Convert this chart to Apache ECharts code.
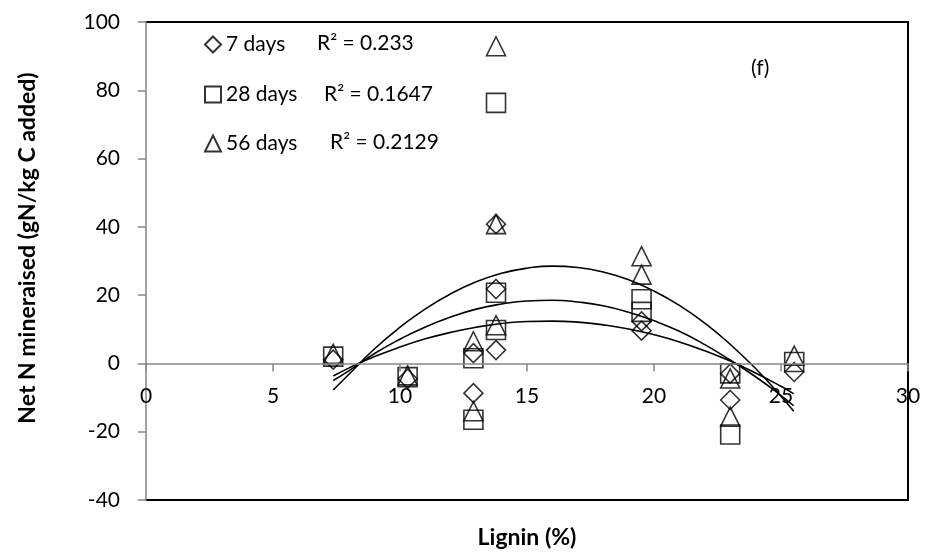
<!DOCTYPE html>
<html lang="en">
<head>
    <meta charset="utf-8">
    <title>Net N mineraised vs Lignin</title>
    <script src="https://cdn.jsdelivr.net/npm/echarts@6/dist/echarts.min.js"></script>
    <style>
        html, body { margin: 0; padding: 0; background: #fff; }
        #main { width: 925px; height: 554px; }
    </style>
</head>
<body>
<div id="main"></div>
<script type="text/javascript">
    // lignin (%) of each residue, same for all three incubation times
    var lignin = [7.37, 10.3, 12.89, 12.89, 13.78, 13.78, 13.78, 19.51, 19.51, 23.0, 23.0, 25.52];
    var day7  = [1.1, -4.5, 3.0, -8.7, 40.8, 21.8, 3.9, 12.3, 9.6, -3.0, -10.7, -2.5];
    var day28 = [2.0, -4.0, 1.5, -16.5, 76.3, 20.7, 9.8, 18.8, 15.1, -2.9, -20.8, 0.4];
    var day56 = [2.8, -3.5, 6.5, -14.0, 92.9, 40.8, 11.2, 31.4, 26.0, -4.4, -15.6, 2.3];

    // polynomial trend lines
    var trendX   = [7.37, 8, 9, 10, 11, 12, 13, 14, 15, 16, 17, 18, 19, 20, 21, 22, 23, 24, 25, 25.5];
    var trend7   = [-3.7, -1.3, 2.0, 4.8, 7.2, 9.1, 10.6, 11.7, 12.3, 12.4, 12.1, 11.3, 10.1, 8.4, 6.3, 3.7, 0.7, -2.8, -6.7, -8.9];
    var trend28  = [-5.0, -2.1, 2.9, 7.1, 10.7, 13.6, 15.9, 17.4, 18.3, 18.5, 18.0, 16.9, 15.0, 12.5, 9.4, 5.5, 1.0, -3.9, -9.4, -12.4];
    var trend56  = [-7.8, -3.1, 4.3, 10.6, 16.0, 20.4, 23.9, 26.4, 27.9, 28.5, 28.1, 26.8, 24.5, 21.2, 17.0, 11.8, 5.6, -1.5, -9.6, -14.0];

    var names = ['7 days', '28 days', '56 days'];
    var rSquared = ['R\u00b2 = 0.233', 'R\u00b2 = 0.1647', 'R\u00b2 = 0.2129'];
    var xTicks = { min: 0, max: 30, interval: 5 };
    var yTicks = { min: -40, max: 100, interval: 20 };

    function pairs(xs, ys) {
        var res = [];
        for (var i = 0; i < ys.length; i++) {
            res.push([xs[i], ys[i]]);
        }
        return res;
    }

    var font = 'Lato';
    var hollow = { color: 'rgba(0,0,0,0)', borderColor: '#000', borderWidth: 1.6 };

    function scatter(name, symbol, values) {
        return {
            name: name,
            type: 'scatter',
            symbol: symbol,
            symbolSize: 19,
            itemStyle: hollow,
            data: pairs(lignin, values)
        };
    }

    function trend(values) {
        return {
            type: 'line',
            data: pairs(trendX, values),
            smooth: true,
            showSymbol: false,
            silent: true,
            lineStyle: { color: '#000', width: 1.6 },
            z: 1
        };
    }

    function legendAt(name, top) {
        return {
            data: [name],
            left: 204,
            top: top,
            padding: 0,
            itemWidth: 16,
            itemHeight: 16,
            selectedMode: false,
            textStyle: { fontFamily: font, fontSize: 21, color: '#000' }
        };
    }

    function textAt(text, x, y) {
        return {
            type: 'text',
            left: x,
            top: y,
            style: { text: text, fontFamily: font, fontSize: 21, fill: '#000' }
        };
    }

    // black frame lines (top, right, bottom) drawn as bare axes
    function frameAxis(position, range) {
        return {
            type: 'value',
            position: position,
            min: range.min,
            max: range.max,
            axisLine: { show: true, onZero: false, lineStyle: { color: '#000', width: 2 } },
            axisTick: { show: false },
            axisLabel: { show: false },
            splitLine: { show: false }
        };
    }

    var myChart = echarts.init(document.getElementById('main'));

    var option = {
        backgroundColor: '#fff',
        animation: false,
        grid: {
            left: 146, right: 17, top: 22, bottom: 54,
            containLabel: false,
            outerBoundsMode: 'none'
        },
        legend: [
            legendAt(names[0], 34),
            legendAt(names[1], 84),
            legendAt(names[2], 133)
        ],
        graphic: [
            textAt(rSquared[0], 317, 33),
            textAt(rSquared[1], 324, 84),
            textAt(rSquared[2], 330, 132),
            textAt('(f)', 751, 58),
            {
                type: 'text',
                x: 28,
                y: 248,
                rotation: Math.PI / 2,
                style: {
                    text: 'Net N mineraised (gN/kg C added)',
                    fontFamily: font, fontSize: 23, fontWeight: 'bold', fill: '#000',
                    align: 'center', verticalAlign: 'middle'
                }
            }
        ],
        xAxis: [
            {
                type: 'value',
                min: xTicks.min,
                max: xTicks.max,
                interval: xTicks.interval,
                name: 'Lignin (%)',
                nameLocation: 'middle',
                nameGap: 26,
                nameTextStyle: { fontFamily: font, fontSize: 23, fontWeight: 'bold', color: '#000' },
                axisLine: { onZero: true, onZeroAxisIndex: 0, lineStyle: { color: '#868686', width: 1.5 } },
                axisTick: { show: true, length: 8, lineStyle: { color: '#868686', width: 1.5 } },
                // labels sit just under the zero line, not at the bottom of the frame
                axisLabel: { margin: -114, fontFamily: font, fontSize: 21, color: '#000' },
                splitLine: { show: false },
                z: 3
            },
            frameAxis('top', xTicks),
            frameAxis('bottom', xTicks)
        ],
        yAxis: [
            {
                type: 'value',
                min: yTicks.min,
                max: yTicks.max,
                interval: yTicks.interval,
                axisLine: { show: true, onZero: false, lineStyle: { color: '#868686', width: 1.5 } },
                axisTick: { show: true, length: 8, lineStyle: { color: '#868686', width: 1.5 } },
                axisLabel: { margin: 26, fontFamily: font, fontSize: 21, color: '#000' },
                splitLine: { show: false },
                z: 3
            },
            frameAxis('right', yTicks)
        ],
        series: [
            trend(trend7),
            trend(trend28),
            trend(trend56),
            scatter(names[0], 'diamond', day7),
            scatter(names[1], 'rect', day28),
            scatter(names[2], 'triangle', day56)
        ]
    };

    myChart.setOption(option);
</script>
</body>
</html>
